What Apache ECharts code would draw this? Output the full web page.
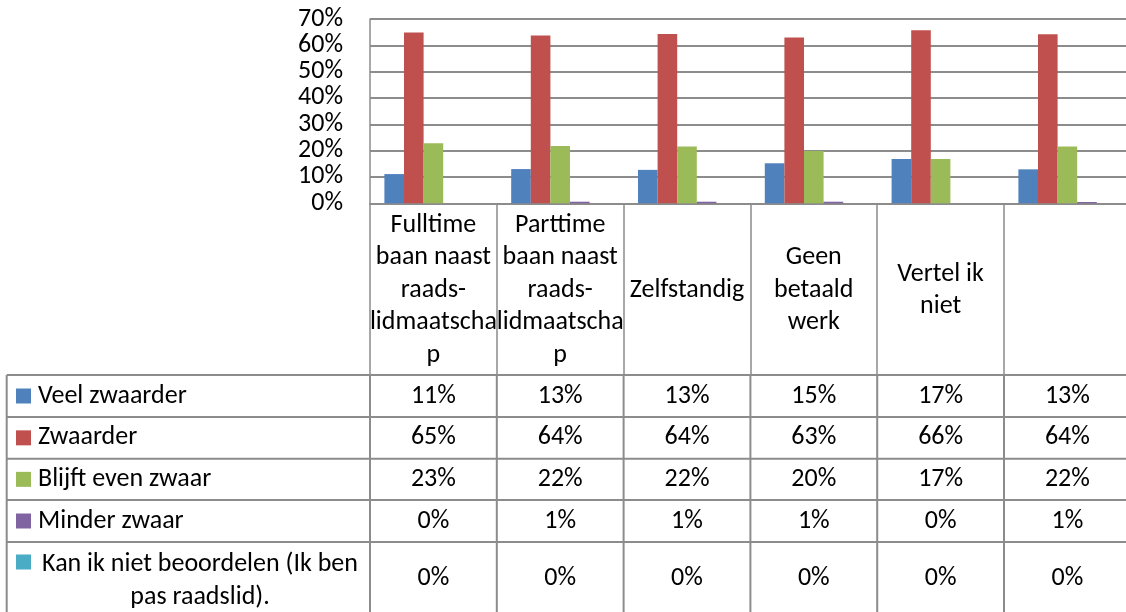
<!DOCTYPE html>
<html>
<head>
<meta charset="utf-8">
<script src="https://cdn.jsdelivr.net/npm/echarts@6/dist/echarts.min.js"></script>
<style>
  html, body { margin: 0; padding: 0; overflow: hidden; background: #fff; }
  #main { width: 1131px; height: 612px; }
</style>
</head>
<body>
<div id="main"></div>
<script>
// categorieën (zoals in de tabelkop afgebroken)
const categories = [
  'Fulltime\nbaan naast\nraads-\nlidmaatscha\np',
  'Parttime\nbaan naast\nraads-\nlidmaatscha\np',
  'Zelfstandig',
  'Geen\nbetaald\nwerk',
  'Vertel ik\nniet',
  ''
];
const seriesNames = [
  'Veel zwaarder',
  'Zwaarder',
  'Blijft even zwaar',
  'Minder zwaar',
  'Kan ik niet beoordelen (Ik ben\npas raadslid).'
];
// waarden in procenten
const veelZwaarder = [11.1, 13.0, 12.7, 15.2, 16.8, 12.9];
const zwaarder     = [64.9, 63.7, 64.3, 63.0, 65.7, 64.2];
const blijftEven   = [22.8, 21.8, 21.6, 19.9, 16.8, 21.6];
const minderZwaar  = [0, 0.6, 0.6, 0.6, 0, 0.5];
const kanNiet      = [0, 0, 0, 0, 0, 0];
const seriesData = [veelZwaarder, zwaarder, blijftEven, minderZwaar, kanNiet];
const colors = ['#4F81BD', '#C0504D', '#9BBB59', '#8064A2', '#4BACC6'];

const FONT = 'Carlito, Lato, sans-serif';
const LINE = '#8C8C8C';

// tabel-layout
const tableLeft = 6.7;
const rowTops = [375, 417, 458.7, 500, 542];
const rowHeights = [42, 41.7, 41.3, 42, 72];

let chart = echarts.init(document.getElementById('main'));

let option = {
  animation: false,
  color: colors,
  grid: { left: 370, top: 19, width: 760.8, height: 184.3 },
  xAxis: {
    type: 'category',
    data: categories,
    axisLine: { lineStyle: { color: LINE, width: 2 } },
    axisTick: { show: true, length: 172, lineStyle: { color: LINE, width: 1.5 } },
    axisLabel: {
      interval: 0,
      margin: 87,
      verticalAlign: 'middle',
      fontFamily: FONT,
      fontSize: 26,
      lineHeight: 32.5,
      color: '#000'
    }
  },
  yAxis: {
    type: 'value',
    min: 0,
    max: 70,
    interval: 10,
    axisLine: { show: true, lineStyle: { color: LINE, width: 1.5 } },
    axisTick: { show: false },
    splitLine: { lineStyle: { color: LINE, width: 2 } },
    axisLabel: {
      formatter: '{value}%',
      margin: 27,
      fontFamily: FONT,
      fontSize: 26,
      color: '#000'
    }
  },
  series: seriesNames.map((name, i) => ({
    name: name,
    type: 'bar',
    data: seriesData[i],
    barGap: '0%',
    barCategoryGap: '22.7%'
  }))
};
chart.setOption(option);

// datatabel onder de grafiek
function drawTable() {
  let g = [];
  let c0 = chart.convertToPixel({ xAxisIndex: 0 }, 0);
  let c1 = chart.convertToPixel({ xAxisIndex: 0 }, 1);
  let colW = c1 - c0;
  let right = c0 + colW * (categories.length - 0.5);
  let bottom = rowTops[rowTops.length - 1] + rowHeights[rowHeights.length - 1];

  // horizontale lijnen
  rowTops.forEach(y => {
    g.push({ type: 'line', shape: { x1: tableLeft, y1: y, x2: right, y2: y },
      style: { stroke: LINE, lineWidth: 2 } });
  });
  // verticale lijnen
  g.push({ type: 'line', shape: { x1: tableLeft, y1: rowTops[0], x2: tableLeft, y2: bottom },
    style: { stroke: LINE, lineWidth: 2 } });
  for (let i = 0; i <= categories.length; i++) {
    let x = c0 - colW / 2 + i * colW;
    g.push({ type: 'line', shape: { x1: x, y1: rowTops[0], x2: x, y2: bottom },
      style: { stroke: LINE, lineWidth: 2 } });
  }

  seriesNames.forEach((name, r) => {
    let cy = rowTops[r] + rowHeights[r] / 2;
    let multi = name.indexOf('\n') >= 0;
    let keyY = multi ? cy - 16 : cy;
    // legenda-sleutel
    g.push({ type: 'rect', shape: { x: 16, y: keyY - 7.5, width: 15, height: 15 },
      style: { fill: colors[r] } });
    g.push({ type: 'text', x: multi ? 200 : 38, y: multi ? cy + 3 : cy,
      style: { text: name, font: '26px ' + FONT, fill: '#000',
        align: multi ? 'center' : 'left', verticalAlign: 'middle', lineHeight: 33 } });
    // waarden
    seriesData[r].forEach((v, i) => {
      let x = chart.convertToPixel({ xAxisIndex: 0 }, i);
      g.push({ type: 'text', x: x, y: cy,
        style: { text: Math.round(v) + '%', font: '26px ' + FONT, fill: '#000',
          align: 'center', verticalAlign: 'middle' } });
    });
  });
  chart.setOption({ graphic: g });
}
drawTable();
</script>
</body>
</html>
